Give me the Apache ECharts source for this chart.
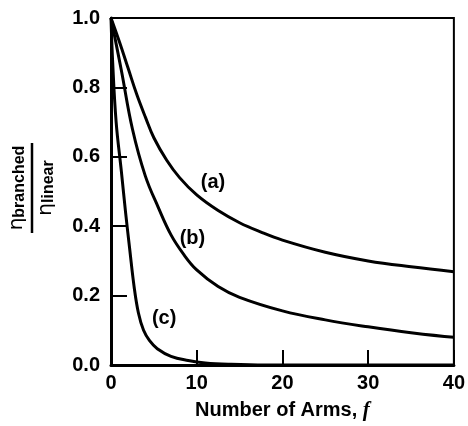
<!DOCTYPE html>
<html>
<head>
<meta charset="utf-8">
<script src="https://cdn.jsdelivr.net/npm/echarts@6/dist/echarts.min.js"></script>
<style>
  html, body { margin: 0; padding: 0; background: #fff; }
  #box { width: 468px; height: 426px; }
</style>
</head>
<body>
<div id="box"></div>
<script>
var mychart = echarts.init(document.getElementById("box"));

// curve (a)
var armsA = [0, 1, 2, 3, 4, 5, 6.5, 8, 10, 12.5, 15, 17.5, 20, 25, 30, 35, 40];
var etaA = [1, 0.93, 0.855, 0.78, 0.715, 0.655, 0.59, 0.54, 0.49, 0.445, 0.41, 0.383, 0.36, 0.325, 0.30, 0.283, 0.269];
// curve (b)
var armsB = [0, 1.2, 2.5, 4, 5.5, 7, 8.5, 10, 12.5, 15, 20, 25, 30, 35, 40];
var etaB = [1, 0.85, 0.68, 0.545, 0.455, 0.375, 0.318, 0.274, 0.226, 0.195, 0.156, 0.13, 0.11, 0.093, 0.08];
// curve (c)
var armsC = [0, 0.2, 0.6, 1.2, 1.7, 2.2, 2.7, 3.2, 3.8, 4.5, 5.4, 7, 9, 11, 14, 18, 40];
var etaC = [1, 0.87, 0.7, 0.56, 0.44, 0.33, 0.225, 0.15, 0.1, 0.07, 0.047, 0.025, 0.013, 0.006, 0.002, 0, 0];

// curve labels
var labelArms = [11.9, 9.5, 6.2];
var labelEta = [0.527, 0.366, 0.134];
var labelText = ['(a)', '(b)', '(c)'];

function pairs(xs, ys) {
    return xs.map(function (x, i) { return [x, ys[i]]; });
}

var font = '"Liberation Sans", Arial, sans-serif';

function curve(name, data) {
    return {
        name: name,
        type: 'line',
        smooth: 0.4,
        symbol: 'none',
        lineStyle: { color: '#000', width: 3 },
        data: data
    };
}

var option = {
    animation: false,
    backgroundColor: '#fff',
    grid: {
        left: 111,
        right: 11,
        top: 18,
        bottom: 58,
        show: true,
        borderColor: '#000',
        borderWidth: 2
    },
    xAxis: {
        type: 'value',
        min: 0,
        max: 40,
        interval: 10,
        name: 'Number of Arms, {i|f}',
        nameLocation: 'middle',
        nameGap: 35,
        nameTextStyle: {
            fontFamily: font,
            fontWeight: 'bold',
            fontSize: 20,
            color: '#000',
            rich: {
                i: { fontFamily: '"Liberation Serif", serif', fontStyle: 'italic', fontSize: 21, color: '#000' }
            }
        },
        axisLine: { lineStyle: { color: '#000', width: 3 } },
        axisTick: { inside: true, length: 15, lineStyle: { color: '#000', width: 2 } },
        axisLabel: { margin: 8, fontFamily: font, fontWeight: 'bold', fontSize: 20, color: '#000' },
        splitLine: { show: false }
    },
    yAxis: {
        type: 'value',
        min: 0,
        max: 1,
        interval: 0.2,
        axisLine: { show: true, lineStyle: { color: '#000', width: 3 } },
        axisTick: { show: true, inside: true, length: 16, lineStyle: { color: '#000', width: 2 } },
        axisLabel: {
            margin: 11,
            fontFamily: font,
            fontWeight: 'bold',
            fontSize: 20,
            color: '#000',
            formatter: function (v) { return v.toFixed(1); }
        },
        splitLine: { show: false }
    },
    graphic: [{
        type: 'group',
        x: 32,
        y: 188,
        rotation: Math.PI / 2,
        children: [{
            type: 'text',
            x: 0,
            y: -15,
            style: {
                text: 'η{s|branched}',
                align: 'center',
                verticalAlign: 'middle',
                font: '20px "DejaVu Sans", sans-serif',
                fill: '#000',
                rich: { s: { fontFamily: font, fontWeight: 'bold', fontSize: 16, fill: '#000', padding: [6, 0, 0, 0] } }
            }
        }, {
            type: 'line',
            shape: { x1: -45, y1: 0, x2: 45, y2: 0 },
            style: { stroke: '#000', lineWidth: 2.5 }
        }, {
            type: 'text',
            x: 0,
            y: 14,
            style: {
                text: 'η{s|linear}',
                align: 'center',
                verticalAlign: 'middle',
                font: '20px "DejaVu Sans", sans-serif',
                fill: '#000',
                rich: { s: { fontFamily: font, fontWeight: 'bold', fontSize: 16, fill: '#000', padding: [6, 0, 0, 0] } }
            }
        }]
    }],
    series: [
        curve('a', pairs(armsA, etaA)),
        curve('b', pairs(armsB, etaB)),
        curve('c', pairs(armsC, etaC)),
        {
            type: 'scatter',
            symbolSize: 0,
            itemStyle: { color: '#000', opacity: 1 },
            label: {
                show: true,
                position: 'inside',
                fontFamily: font,
                fontWeight: 'bold',
                fontSize: 20,
                color: '#000',
                formatter: function (p) { return labelText[p.dataIndex]; }
            },
            data: pairs(labelArms, labelEta)
        }
    ]
};

mychart.setOption(option);
</script>
</body>
</html>
